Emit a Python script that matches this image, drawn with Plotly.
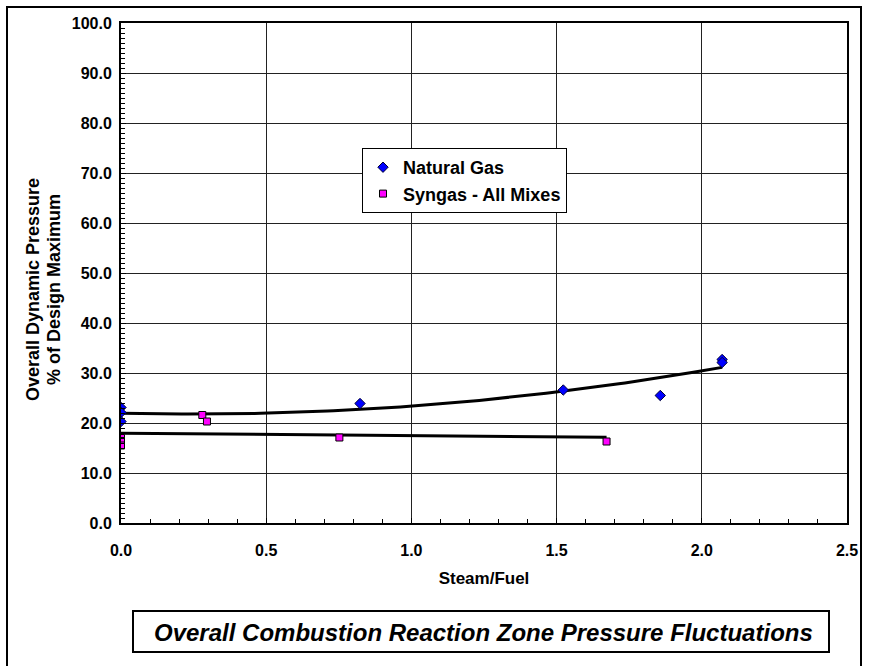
import numpy as np
import plotly.graph_objects as go

# ---- data ----
ng_x = [0.0, 0.0, 0.0, 0.823, 1.523, 1.857, 2.07, 2.07]
ng_y = [23.1, 22.1, 20.3, 23.9, 26.6, 25.5, 32.7, 32.1]
sg_x = [0.0, 0.0, 0.0, 0.28, 0.296, 0.752, 1.672]
sg_y = [17.0, 16.4, 15.5, 21.6, 20.3, 17.1, 16.3]

x_ticks = [0.0, 0.5, 1.0, 1.5, 2.0, 2.5]
y_ticks = [0, 10, 20, 30, 40, 50, 60, 70, 80, 90, 100]

W, H = 869, 666
L, R, T, B = 121, 847, 23, 523  # plot area in pixels


def xp(px):
    return (px - L) / (R - L)


def yp(py):
    return (B - py) / (B - T)


FONT = "Arial, Liberation Sans, sans-serif"

# trend lines (Excel-style fits of the series)
ng_c = np.polyfit(ng_x, ng_y, 2)
tx_ng = np.linspace(min(ng_x), max(ng_x), 100)
ty_ng = np.polyval(ng_c, tx_ng)
sg_c = np.polyfit(sg_x, sg_y, 1)
tx_sg = np.array([min(sg_x), max(sg_x)])
ty_sg = np.polyval(sg_c, tx_sg)

fig = go.Figure()
fig.add_trace(go.Scatter(x=tx_ng, y=ty_ng, mode="lines",
                         line=dict(color="black", width=3), showlegend=False,
                         hoverinfo="skip"))
fig.add_trace(go.Scatter(x=tx_sg, y=ty_sg, mode="lines",
                         line=dict(color="black", width=3), showlegend=False,
                         hoverinfo="skip"))
fig.add_trace(go.Scatter(x=ng_x, y=ng_y, mode="markers", name="Natural Gas",
                         marker=dict(symbol="diamond", size=8, color="#0000FF",
                                     line=dict(color="#000033", width=1))))
fig.add_trace(go.Scatter(x=sg_x, y=sg_y, mode="markers", name="Syngas - All Mixes",
                         marker=dict(symbol="square", size=7, color="#FF00FF",
                                     line=dict(color="black", width=1))))

axis_common = dict(
    showline=True, linecolor="black", linewidth=2, mirror=True,
    showgrid=True, gridcolor="#222222", gridwidth=1,
    ticks="inside", ticklen=5, tickcolor="black", tickwidth=1,
    zeroline=False,
    tickfont=dict(family=FONT, size=16, color="black", weight="bold"),
)

fig.update_layout(
    width=W, height=H,
    margin=dict(l=L, r=W - R, t=T, b=H - B),
    paper_bgcolor="white", plot_bgcolor="white",
    font=dict(family=FONT, color="black"),
    xaxis=dict(range=[0, 2.5], tickvals=x_ticks,
               ticktext=[f"{v:.1f}" for v in x_ticks],
               minor=dict(dtick=0.1, ticks="inside", ticklen=4,
                          tickcolor="black", showgrid=False),
               ticklabelstandoff=12,
               title=dict(text="Steam/Fuel", standoff=14,
                          font=dict(family=FONT, size=17, weight="bold")),
               **axis_common),
    yaxis=dict(range=[0, 100], tickvals=y_ticks,
               ticktext=[f"{v:.1f}" for v in y_ticks],
               minor=dict(dtick=1, ticks="inside", ticklen=4,
                          tickcolor="black", showgrid=False),
               ticklabelstandoff=4,
               **axis_common),
    legend=dict(x=xp(362), y=yp(148), xanchor="left", yanchor="top",
                bgcolor="white", bordercolor="black", borderwidth=1,
                font=dict(family=FONT, size=18, color="black", weight="bold"),
                itemwidth=30, tracegroupgap=0),
    showlegend=True,
)

# y axis title (two lines)
fig.add_annotation(xref="paper", yref="paper", x=xp(33), y=yp(290),
                   text="Overall Dynamic Pressure",
                   textangle=-90, showarrow=False, xanchor="center", yanchor="middle",
                   font=dict(family=FONT, size=18, color="black", weight="bold"))
fig.add_annotation(xref="paper", yref="paper", x=xp(54), y=yp(290),
                   text="% of Design Maximum",
                   textangle=-90, showarrow=False, xanchor="center", yanchor="middle",
                   font=dict(family=FONT, size=18, color="black", weight="bold"))

# outer frame
fig.add_shape(type="rect", xref="paper", yref="paper",
              x0=xp(7), x1=xp(861), y0=yp(700), y1=yp(7),
              line=dict(color="black", width=2), layer="above")
# caption box
fig.add_shape(type="rect", xref="paper", yref="paper",
              x0=xp(133), x1=xp(829), y0=yp(652), y1=yp(611),
              line=dict(color="black", width=2), fillcolor="white", layer="above")
fig.add_annotation(xref="paper", yref="paper", x=xp(483), y=yp(632),
                   text="Overall Combustion Reaction Zone Pressure Fluctuations",
                   showarrow=False, xanchor="center", yanchor="middle",
                   font=dict(family=FONT, size=24, color="black",
                             weight="bold", style="italic"))

fig.write_html("out.html")
